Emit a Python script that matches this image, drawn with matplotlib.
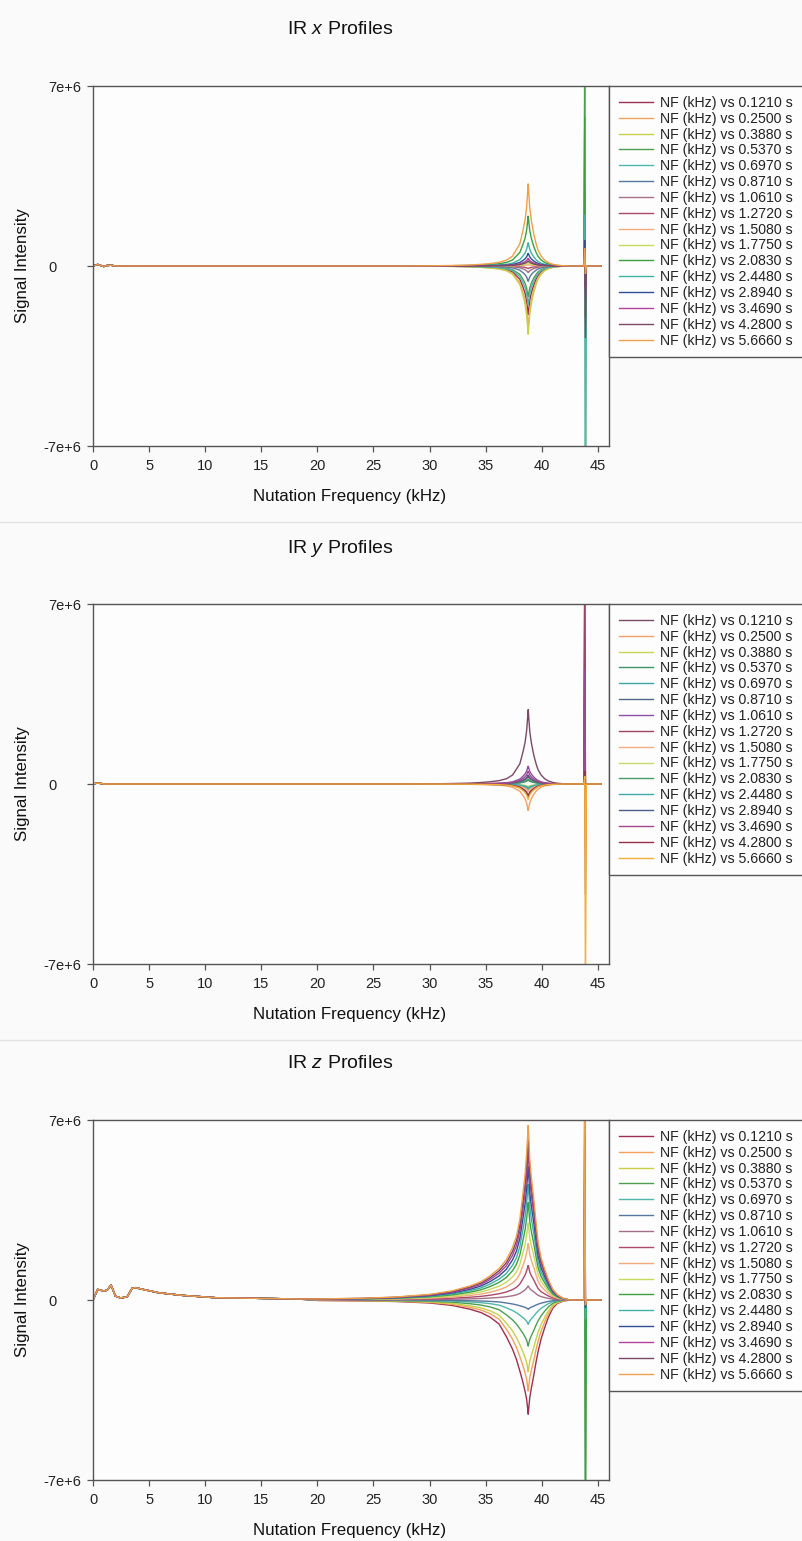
import numpy as np
import matplotlib
matplotlib.use('Agg')
import matplotlib.pyplot as plt
from matplotlib import transforms

plt.rcParams['font.family'] = ['Liberation Sans', 'DejaVu Sans']
plt.rcParams['mathtext.fontset'] = 'custom'
plt.rcParams['mathtext.it'] = 'Liberation Sans:italic'
plt.rcParams['mathtext.rm'] = 'Liberation Sans'

# ---- recovery delays (legend entries) ----
DELAYS = ['0.1210', '0.2500', '0.3880', '0.5370', '0.6970', '0.8710',
          '1.0610', '1.2720', '1.5080', '1.7750', '2.0830', '2.4480',
          '2.8940', '3.4690', '4.2800', '5.6660']
LABELS = ['NF (kHz) vs %s s' % d for d in DELAYS]

COLORS_XZ = ['#9e2f50', '#f2a25c', '#c9d048', '#4e9e52', '#4fb8aa', '#56779e',
             '#a27089', '#ab4a6c', '#f2ab7a', '#c8da5e', '#3e9f42', '#3fb2a6',
             '#2f4c94', '#b24299', '#7a4766', '#f0a04a']
COLORS_Y = ['#7a4a64', '#f2a066', '#c8d456', '#3f9468', '#3fa6a8', '#50668a',
            '#8c4fa6', '#a04466', '#f2ad82', '#c6d86a', '#479c6c', '#40aaa8',
            '#4a5f88', '#a4468c', '#963048', '#f2b03a']

# ---- low-frequency region (kHz) ----
BASE_FREQ = [0.0, 0.42, 0.96, 1.25, 1.61, 2.0, 2.45, 3.04, 3.48, 3.78,
             4.38, 5.87, 7.95, 10.9, 15.4, 18.2]
BASE_X = [0.0, 0.06e6, -0.02e6, 0.02e6, 0.03e6, 0.0, 0.0, 0.0, 0.0, 0.0,
          0.0, 0.0, 0.0, 0.0, 0.0, 0.0]
BASE_Y = [0.0, 0.04e6, 0.0, 0.0, 0.0, 0.0, 0.0, 0.0, 0.0, 0.0,
          0.0, 0.0, 0.0, 0.0, 0.0, 0.0]
BASE_Z = [0.0, 0.41e6, 0.35e6, 0.38e6, 0.58e6, 0.15e6, 0.08e6, 0.12e6, 0.45e6, 0.48e6,
          0.42e6, 0.28e6, 0.18e6, 0.09e6, 0.06e6, 0.04e6]

# ---- resonance near 38.8 kHz: offsets (kHz) and relative line shapes ----
PEAK_CENTER = 38.8
PROFILE_OFFSET = [-18.8, -14.8, -11.8, -8.8, -6.8, -5.2, -4.2, -3.4, -2.6, -1.95,
                  -1.4, -1.05, -0.75, -0.47, -0.28, -0.14, -0.05, 0.0, 0.05, 0.14,
                  0.28, 0.49, 0.7, 0.88, 1.15, 1.47, 1.8, 2.2, 2.6, 3.1, 3.7]
# z: upward (recovered) lines
PROFILE_Z_POS = [0.006, 0.010, 0.017, 0.032, 0.052, 0.080, 0.105, 0.138, 0.18, 0.23,
                 0.30, 0.365, 0.46, 0.61, 0.72, 0.84, 0.94, 1.0, 0.93, 0.80,
                 0.70, 0.58, 0.44, 0.33, 0.24, 0.175, 0.115, 0.06, 0.03, 0.01, 0.0]
# z: downward (still inverted) lines, wider flanks
PROFILE_Z_NEG = [0.004, 0.008, 0.013, 0.026, 0.047, 0.08, 0.11, 0.15, 0.21, 0.32,
                 0.43, 0.52, 0.62, 0.72, 0.80, 0.87, 0.95, 1.0, 0.94, 0.85,
                 0.77, 0.66, 0.54, 0.45, 0.34, 0.24, 0.15, 0.07, 0.03, 0.01, 0.0]
# x and y profiles
PROFILE_XY = [0.0, 0.0, 0.0, 0.002, 0.006, 0.012, 0.02, 0.03, 0.045, 0.07,
              0.12, 0.20, 0.27, 0.43, 0.56, 0.72, 0.90, 1.0, 0.88, 0.70,
              0.55, 0.39, 0.27, 0.19, 0.12, 0.07, 0.04, 0.02, 0.01, 0.003, 0.0]

# peak heights at 38.8 kHz, one per delay
PEAK_X = [-1.9e6, -2.4e6, -2.66e6, -1.2e6, -1.5e6, -0.6e6, -0.26e6, -0.1e6,
          0.05e6, 0.13e6, 1.95e6, 0.91e6, 0.5e6, 0.3e6, 0.2e6, 3.2e6]
PEAK_Y = [2.9e6, -1.04e6, -0.25e6, 0.15e6, -0.2e6, -0.5e6, 0.7e6, 0.3e6,
          -0.3e6, -0.1e6, 0.2e6, -0.15e6, 0.35e6, 0.5e6, -0.45e6, -0.6e6]
PEAK_Z = [-4.45e6, -3.55e6, -2.80e6, -1.80e6, -0.95e6, -0.36e6, 0.55e6, 1.35e6,
          2.20e6, 3.00e6, 3.80e6, 4.50e6, 5.20e6, 5.80e6, 6.30e6, 6.80e6]

# ---- narrow feature near 43.9 kHz: upper / lower extremes per delay ----
SPIKE_FREQ = [43.75, 43.84, 43.90, 43.98]
END_FREQ = [45.3]
HI_X = [0.3e6, 0.6e6, 1.0e6, 8.5e6, 0.8e6, 0.5e6, 0.2e6, 0.4e6,
        0.3e6, 0.9e6, 5.8e6, 2.0e6, 1.0e6, 0.5e6, 0.3e6, 0.7e6]
LO_X = [-0.9e6, -0.5e6, -0.3e6, -8.5e6, -8.5e6, -1.0e6, -0.4e6, -0.9e6,
        -0.3e6, -0.2e6, -2.0e6, -1.5e6, -0.8e6, -0.4e6, -2.8e6, -0.3e6]
HI_Y = [8.5e6, 0.3e6, 0.2e6, 0.3e6, 0.5e6, 1.85e6, 5.7e6, 8.5e6,
        0.3e6, 0.2e6, 0.4e6, 0.6e6, 1.85e6, 4.5e6, 0.5e6, 0.3e6]
LO_Y = [-0.3e6, -0.5e6, -2.4e6, -0.3e6, -0.2e6, -0.3e6, -0.5e6, -0.3e6,
        -2.0e6, -1.0e6, -0.4e6, -0.3e6, -0.6e6, -0.3e6, -4.3e6, -8.5e6]
HI_Z = [0.2e6, 0.3e6, 0.3e6, 0.2e6, 0.2e6, 0.3e6, 0.5e6, 1.0e6,
        1.5e6, 2.0e6, 3.0e6, 4.0e6, 5.0e6, 6.5e6, 8.5e6, 8.5e6]
LO_Z = [-0.3e6, -0.3e6, -0.3e6, -8.5e6, -0.75e6, -0.3e6, -0.2e6, -0.2e6,
        -0.2e6, -0.2e6, -8.5e6, -0.75e6, -0.3e6, -0.2e6, -0.2e6, -0.2e6]

XTICKS = [0, 5, 10, 15, 20, 25, 30, 35, 40, 45]
YTICKS = [-7e6, 0, 7e6]
YTICKLABELS = ['-7e+6', '0', '7e+6']

W, H = 802, 1541
fig = plt.figure(figsize=(W / 100, H / 100), dpi=100, facecolor='#fafafa')

panels = [
    dict(title=r'IR $\mathit{x}$ Profiles', top=86, base=BASE_X,
         prof_pos=PROFILE_XY, prof_neg=PROFILE_XY,
         peak=PEAK_X, hi=HI_X, lo=LO_X, colors=COLORS_XZ),
    dict(title=r'IR $\mathit{y}$ Profiles', top=604, base=BASE_Y,
         prof_pos=PROFILE_XY, prof_neg=PROFILE_XY,
         peak=PEAK_Y, hi=HI_Y, lo=LO_Y, colors=COLORS_Y),
    dict(title=r'IR $\mathit{z}$ Profiles', top=1120, base=BASE_Z,
         prof_pos=PROFILE_Z_POS, prof_neg=PROFILE_Z_NEG,
         peak=PEAK_Z, hi=HI_Z, lo=LO_Z, colors=COLORS_XZ),
]

AX_L, AX_R, AX_H = 93, 609, 360
freq = np.concatenate([BASE_FREQ, PEAK_CENTER + np.array(PROFILE_OFFSET),
                       SPIKE_FREQ, END_FREQ])

for p in panels:
    top = p['top']
    ax = fig.add_axes([AX_L / W, 1 - (top + AX_H) / H, (AX_R - AX_L) / W, AX_H / H])
    ax.set_facecolor('#fdfdfd')
    handles = []
    for i in range(len(DELAYS)):
        amp = p['peak'][i]
        shape = np.array(p['prof_pos'] if amp >= 0 else p['prof_neg'])
        vals = np.concatenate([p['base'], amp * shape,
                               [0.0, p['hi'][i], p['lo'][i], 0.0], [0.0]])
        h, = ax.plot(freq, vals, color=p['colors'][i], lw=1.0, solid_joinstyle='miter')
        handles.append(h)
    ax.set_xlim(0, 46)
    ax.set_ylim(-7e6, 7e6)
    ax.set_xticks(XTICKS)
    ax.set_yticks(YTICKS)
    ax.set_yticklabels(YTICKLABELS)
    ax.tick_params(direction='out', length=4, width=0.9, color='#555555',
                   labelsize=10.5, labelcolor='#222222')
    ax.tick_params(axis='x', pad=5)
    ax.tick_params(axis='y', pad=28)
    for lab in ax.get_yticklabels():
        lab.set_horizontalalignment('left')
        if lab.get_text().startswith('-'):
            lab.set_transform(lab.get_transform() +
                              transforms.ScaledTranslation(-5 / 100, 0, fig.dpi_scale_trans))
    for s in ax.spines.values():
        s.set_color('#555555')
        s.set_linewidth(1.0)
    leg = ax.legend(handles, LABELS, loc='upper left', bbox_to_anchor=(1, 1),
                    borderaxespad=0, fontsize=10.2, frameon=True, fancybox=False,
                    edgecolor='#555555', facecolor='#fdfdfd', framealpha=1,
                    handlelength=2.4, handletextpad=0.5, labelspacing=0.13,
                    borderpad=0.7)
    leg.get_frame().set_linewidth(1.0)
    for t in leg.get_texts():
        t.set_color('#222222')

    fig.text(340 / W, 1 - (top - 56) / H, p['title'], ha='center', va='center',
             fontsize=14, color='#111111')
    fig.text(350 / W, 1 - (top + AX_H + 50) / H, 'Nutation Frequency (kHz)',
             ha='center', va='center', fontsize=12.2, color='#111111')
    fig.text(23 / W, 1 - (top + AX_H / 2) / H, 'Signal Intensity', rotation=90,
             ha='center', va='center', fontsize=12.2, color='#111111')

# thin separators between the three panels
for ysep in (522, 1040):
    fig.add_artist(plt.Line2D([0, 1], [1 - ysep / H, 1 - ysep / H],
                              color='#e2e2e2', lw=1.0, transform=fig.transFigure))

fig.savefig('out.png', dpi=100, facecolor=fig.get_facecolor())
